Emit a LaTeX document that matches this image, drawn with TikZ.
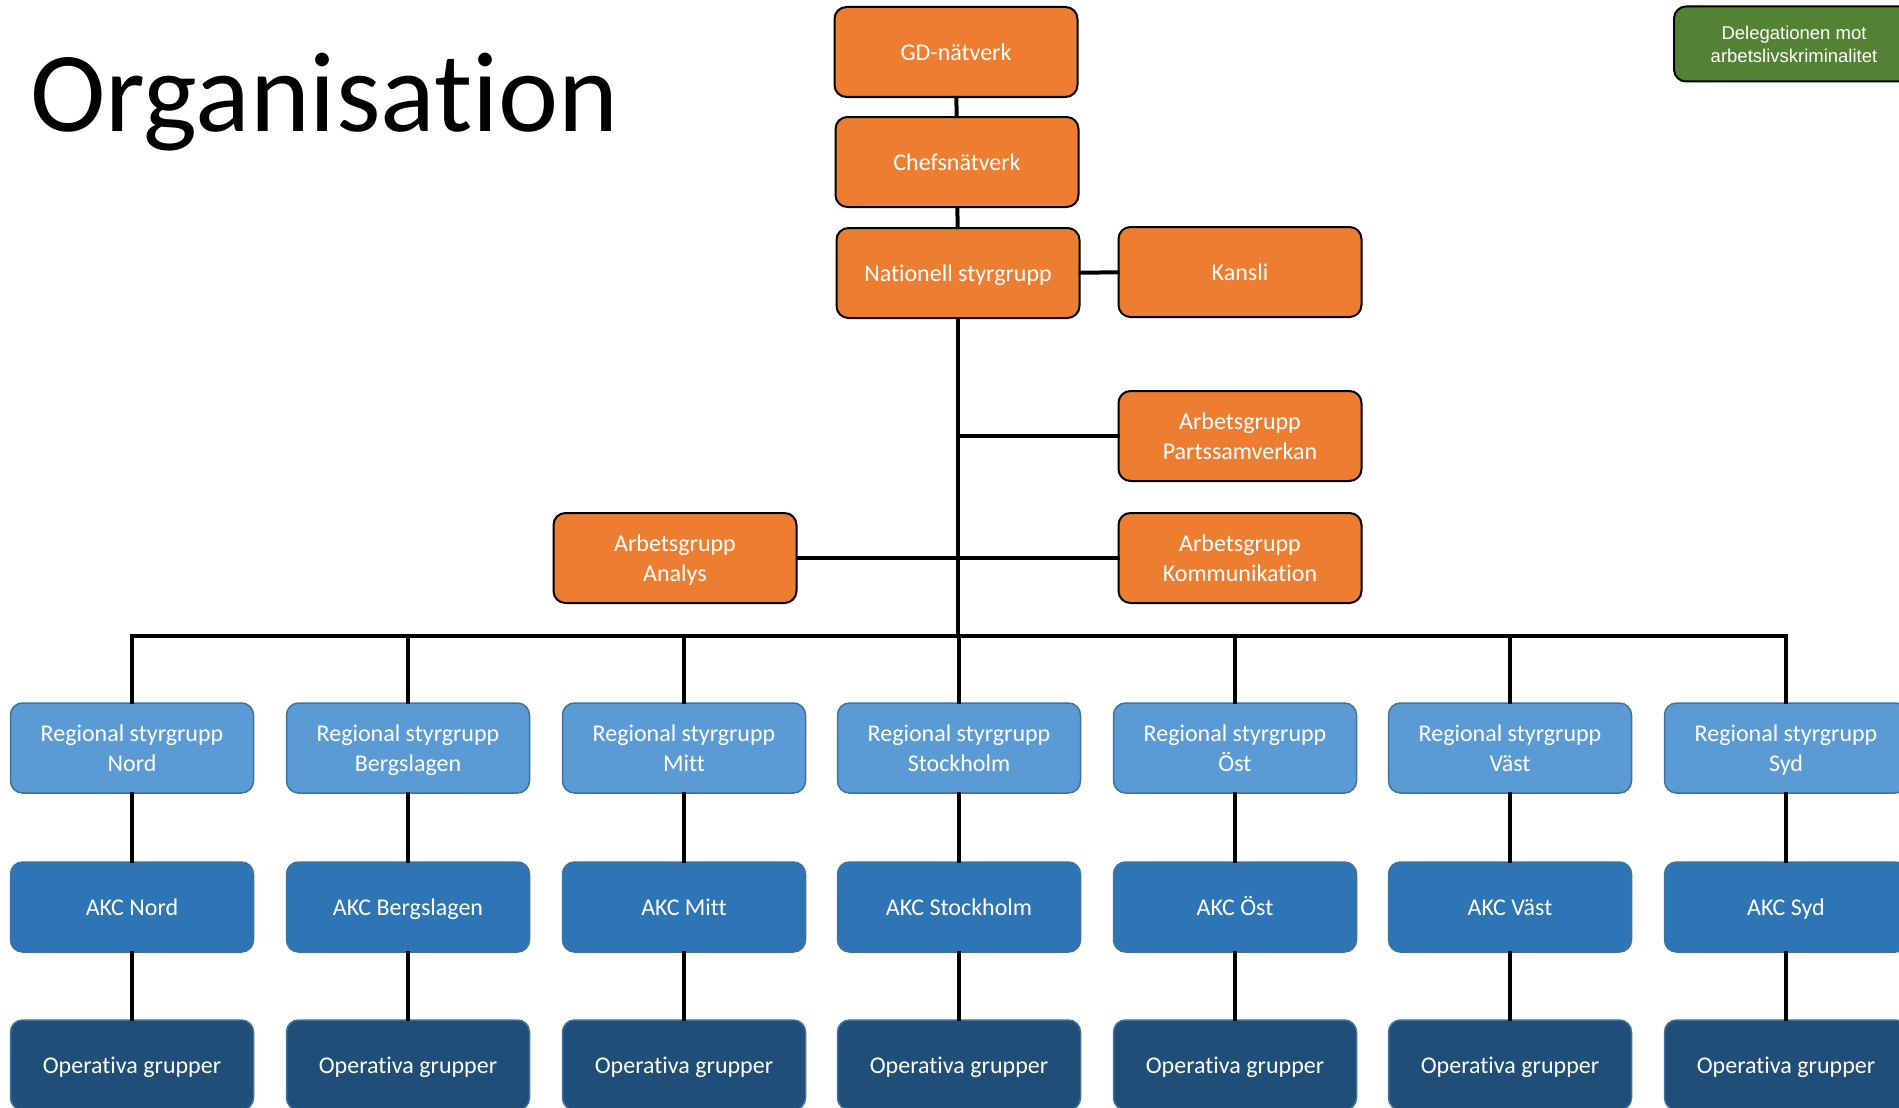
\documentclass[tikz,border=0pt]{standalone}
\usepackage{fontspec}
\setmainfont{Carlito}[Ligatures=CommonOff]
\newfontfamily\delfont{Liberation Sans}
\usetikzlibrary{positioning,calc}
\tikzset{>=stealth}

\definecolor{orgorange}{HTML}{ED7D31}
\definecolor{orggreen}{HTML}{548235}
\definecolor{reglight}{HTML}{5B9BD5}
\definecolor{akcblue}{HTML}{2E75B6}
\definecolor{opnavy}{HTML}{1F4E79}
\definecolor{blueedge}{HTML}{41719C}

% Same line height in every box
\newcommand\boxstrut{\rule[-5pt]{0pt}{26pt}}

\tikzset{
  box/.style={rectangle,rounded corners=12pt,minimum width=243pt,minimum height=90pt,
    align=center,text=white,inner sep=0pt,font=\fontsize{24}{30}\selectfont},
  natbox/.style={box,fill=orgorange,draw=black,line width=2pt},
  regbox/.style={box,fill=reglight,draw=blueedge,line width=1.5pt},
  akcbox/.style={box,fill=akcblue,draw=blueedge,line width=1.5pt},
  opbox/.style={box,fill=opnavy,draw=blueedge,line width=1.5pt},
  link/.style={line width=4pt,line cap=rect}
}

\begin{document}
\begin{tikzpicture}[x=1pt,y=-1pt]
% Page is 1899 x 1108, y runs downwards
\useasboundingbox (0,0) rectangle (1899,1108);
\clip (0,0) rectangle (1899,1108);

% Title
\node[anchor=base west,inner sep=0pt,font=\fontsize{114}{120}\selectfont] (title) at (30,131) {Organisation};

% National level
\node[natbox] (gd) at (956,52) {\boxstrut GD-nätverk};
\node[natbox] (chef) at (957,162) {\boxstrut Chefsnätverk};
\node[natbox] (nat) at (958,273) {\boxstrut Nationell styrgrupp};
\node[natbox] (kansli) at (1240,272) {\boxstrut Kansli};
\node[natbox] (parts) at (1240,436) {\boxstrut Arbetsgrupp\\\boxstrut Partssamverkan};
\node[natbox] (analys) at (675,558) {\boxstrut Arbetsgrupp\\\boxstrut Analys};
\node[natbox] (komm) at (1240,558) {\boxstrut Arbetsgrupp\\\boxstrut Kommunikation};

% Delegation in the corner
\node[box,fill=orggreen,draw=black,line width=2pt,minimum width=240pt,minimum height=75pt,
  font=\delfont\fontsize{18.5}{23}\selectfont] (del) at (1794,44) {Delegationen mot\\arbetslivskriminalitet};

% Trunk from the national group down to the bus
\coordinate (bus) at (958,636);
\draw[link] (gd) -- (chef);
\draw[link] (chef) -- (nat);
\draw[link] (nat) -- (kansli);
\draw[link] (nat.south) -- (bus);
\draw[link] (parts.west) -- (parts.west -| nat);
\draw[link] (analys) -- (komm);

% Regions: styrgrupp, AKC and operativa grupper
\foreach \cx/\id/\region in {132/nord/Nord,408/berg/Bergslagen,684/mitt/Mitt,959/sthlm/Stockholm,
    1235/ost/Öst,1510/vast/Väst,1786/syd/Syd} {
  \node[regbox] (reg-\id) at (\cx,748) {\boxstrut Regional styrgrupp\\\boxstrut\region};
  \node[akcbox] (akc-\id) at (\cx,907) {\boxstrut AKC \region};
  \node[opbox] (op-\id) at (\cx,1065) {\boxstrut Operativa grupper};
  \draw[link] (reg-\id.north) -- (reg-\id.north |- bus);
  \draw[link] (reg-\id) -- (akc-\id);
  \draw[link] (akc-\id) -- (op-\id);
}

% Bus across all regions
\draw[link] (reg-nord.north |- bus) -- (reg-syd.north |- bus);
\end{tikzpicture}
\end{document}
